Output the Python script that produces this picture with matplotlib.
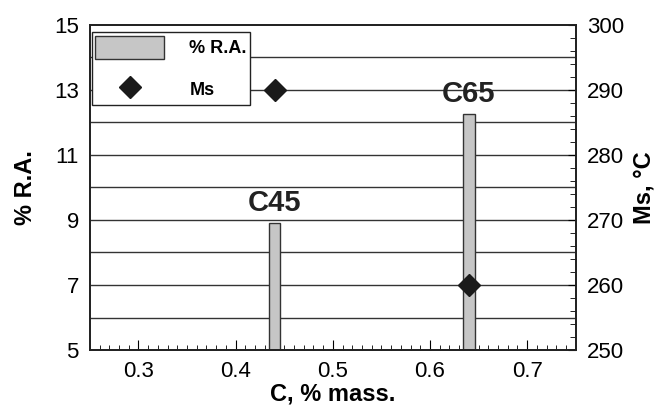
import matplotlib.pyplot as plt
from matplotlib.ticker import MultipleLocator

carbon = [0.44, 0.64]
ra = [8.9, 12.25]
ms = [290, 260]
steels = ["C45", "C65"]
bar_w = [0.012, 0.013]

plt.rcParams['font.family'] = ['Liberation Sans', 'DejaVu Sans']

fig = plt.figure(figsize=(6.61, 4.07), dpi=100)
ax = fig.add_axes([0.136, 0.14, 0.735, 0.799])

ax.set_ylim(5, 15)
ax.set_xlim(0.25, 0.75)
ax.set_yticks([5, 7, 9, 11, 13, 15])
for y in range(6, 15):
    ax.axhline(y, color='#333333', lw=1.0, zorder=0)

ax.bar(carbon, ra, width=bar_w, bottom=0, color='#c6c6c6', edgecolor='#333333',
       lw=1.0, zorder=2, label='% R.A.')
for x, h, s in zip(carbon, ra, steels):
    ax.text(x, h + 0.2, s, ha='center', va='bottom', fontsize=21,
            fontweight='bold', color='#222222')

ax.xaxis.set_major_locator(MultipleLocator(0.1))
ax.xaxis.set_minor_locator(MultipleLocator(0.01))
ax.tick_params(axis='x', which='major', direction='in', length=7, labelsize=16, pad=8)
ax.tick_params(axis='x', which='minor', direction='in', length=3.5)
ax.tick_params(axis='y', length=0, labelsize=16, pad=8)
for sp in ax.spines.values():
    sp.set_linewidth(1.3)
    sp.set_color('#222222')

ax.set_xlabel('C, % mass.', fontsize=17, fontweight='bold', labelpad=0)
ax.set_ylabel('% R.A.', fontsize=17, fontweight='bold', labelpad=12)

ax2 = ax.twinx()
ax2.set_ylim(250, 300)
ax2.yaxis.set_major_locator(MultipleLocator(10))
ax2.yaxis.set_minor_locator(MultipleLocator(2))
ax2.tick_params(axis='y', which='major', direction='in', length=6, labelsize=16, pad=8)
ax2.tick_params(axis='y', which='minor', direction='in', length=4)
for sp in ax2.spines.values():
    sp.set_linewidth(1.3)
    sp.set_color('#222222')
ax2.plot(carbon, ms, linestyle='none', marker='D', markersize=11, color='#1a1a1a',
         zorder=5, label='Ms')
ax2.set_ylabel('Ms, °C', fontsize=17, fontweight='bold', labelpad=6)

h1, l1 = ax.get_legend_handles_labels()
h2, l2 = ax2.get_legend_handles_labels()
leg = ax2.legend(h1 + h2, l1 + l2, loc='upper left', bbox_to_anchor=(0.004, 0.978),
                 borderaxespad=0, fancybox=False, framealpha=1, edgecolor='#222222',
                 prop={'weight': 'bold', 'size': 13}, handlelength=3.8,
                 handleheight=1.6, labelspacing=1.05, borderpad=0.2, handletextpad=1.4)
leg.get_frame().set_linewidth(1.0)
leg.set_zorder(1)

fig.savefig('out.png', dpi=100)
